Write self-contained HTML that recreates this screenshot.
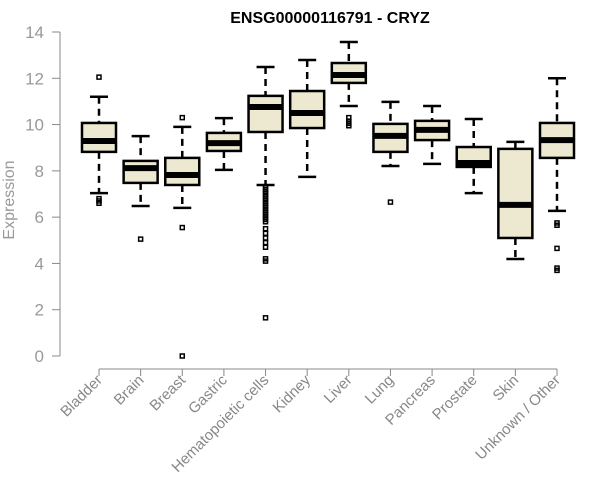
<!DOCTYPE html>
<html><head><meta charset="utf-8"><style>
body{margin:0;background:#fff;}
svg{display:block;font-family:"Liberation Sans",Arial,sans-serif;}
</style></head><body>
<svg id="chart" width="600" height="500">
<text x="330" y="23" text-anchor="middle" font-weight="bold" font-size="16" fill="#000">ENSG00000116791 - CRYZ</text>
<text transform="translate(14,200) rotate(-90)" text-anchor="middle" font-size="16" fill="#999">Expression</text>
<g id="yaxis"></g>
<g id="xaxis"></g>
<g id="boxes"></g>
</svg>
<script>
const categories=["Bladder","Brain","Breast","Gastric","Hematopoietic cells","Kidney","Liver","Lung","Pancreas","Prostate","Skin","Unknown / Other"];
const whiskerLow=[7.04,6.48,6.4,8.04,7.39,7.74,10.8,8.21,8.3,7.04,4.19,6.27];
const q1=[8.82,7.48,7.39,8.86,9.68,9.85,11.8,8.82,9.33,8.17,5.1,8.56];
const median=[9.29,8.12,7.82,9.2,10.76,10.5,12.14,9.51,9.77,8.34,6.53,9.33];
const q3=[10.07,8.43,8.56,9.64,11.24,11.45,12.66,10.03,10.16,9.03,8.95,10.07];
const whiskerHigh=[11.2,9.5,9.9,10.28,12.49,12.79,13.57,10.98,10.8,10.24,9.25,12.0];
const outliers=[[12.05,6.8,6.7,6.6],[5.05],[10.3,5.55,0],[],[7.3,7.2,7.1,7.0,6.9,6.8,6.7,6.6,6.5,6.4,6.3,6.2,6.1,6.0,5.9,5.8,5.5,5.3,5.1,4.9,4.7,4.2,4.1,1.65],[],[10.3,10.15,10.05,9.95],[6.65],[],[],[],[5.75,5.65,4.65,3.8,3.7]];
const yTicks=[0,2,4,6,8,10,12,14];

const NS="http://www.w3.org/2000/svg";
const y0=356,y1=32,vmax=14;
function ys(v){return y0-(y0-y1)*v/vmax;}
function xs(i){return 99+i*(557-99)/(categories.length-1);}
function mk(tag,attrs,parent){const e=document.createElementNS(NS,tag);for(const k in attrs)e.setAttribute(k,attrs[k]);parent.appendChild(e);return e;}
const ya=document.getElementById('yaxis'),xa=document.getElementById('xaxis'),bx=document.getElementById('boxes');
let l=mk('line',{x1:60,x2:60,y1:ys(0),y2:ys(14),stroke:'#888'},ya);


yTicks.forEach(t=>{
  let tk=mk('line',{x1:52,x2:60,y1:ys(t),y2:ys(t),stroke:'#888'},ya);
  
  
  let tx=mk('text',{x:44,y:ys(t)+6,'text-anchor':'end','font-size':17,fill:'#999'},ya);
  tx.textContent=t;
  
  
});
let xl=mk('line',{x1:xs(0),x2:xs(categories.length-1),y1:369,y2:369,stroke:'#888'},xa);


categories.forEach((c,i)=>{
  const x=xs(i);
  let tk=mk('line',{x1:x,x2:x,y1:369,y2:376,stroke:'#888'},xa);
  
  
  let tx=mk('text',{transform:`translate(${x+4},${381}) rotate(-45)`,'text-anchor':'end','font-size':15,fill:'#888'},xa);
  tx.textContent=c;
  
  
  const g=mk('g',{},bx);
  
  
  const hw=17,cw=9;
  mk('line',{x1:x,x2:x,y1:ys(whiskerHigh[i]),y2:ys(q3[i]),stroke:'#000','stroke-width':2.5,'stroke-dasharray':'7,5'},g);
  mk('line',{x1:x,x2:x,y1:ys(q1[i]),y2:ys(whiskerLow[i]),stroke:'#000','stroke-width':2.5,'stroke-dasharray':'7,5'},g);
  mk('line',{x1:x-cw,x2:x+cw,y1:ys(whiskerHigh[i]),y2:ys(whiskerHigh[i]),stroke:'#000','stroke-width':2.5},g);
  mk('line',{x1:x-cw,x2:x+cw,y1:ys(whiskerLow[i]),y2:ys(whiskerLow[i]),stroke:'#000','stroke-width':2.5},g);
  mk('rect',{x:x-hw,y:ys(q3[i]),width:hw*2,height:ys(q1[i])-ys(q3[i]),fill:'#ede8d0',stroke:'#000','stroke-width':2.5},g);
  mk('line',{x1:x-hw,x2:x+hw,y1:ys(median[i]),y2:ys(median[i]),stroke:'#000','stroke-width':6},g);
  outliers[i].forEach(v=>{
    let p=mk('rect',{x:x-2,y:ys(v)-2,width:4,height:4,fill:'none',stroke:'#000','stroke-width':1.5},g);
    
    
  });
});
</script>
</body></html>
